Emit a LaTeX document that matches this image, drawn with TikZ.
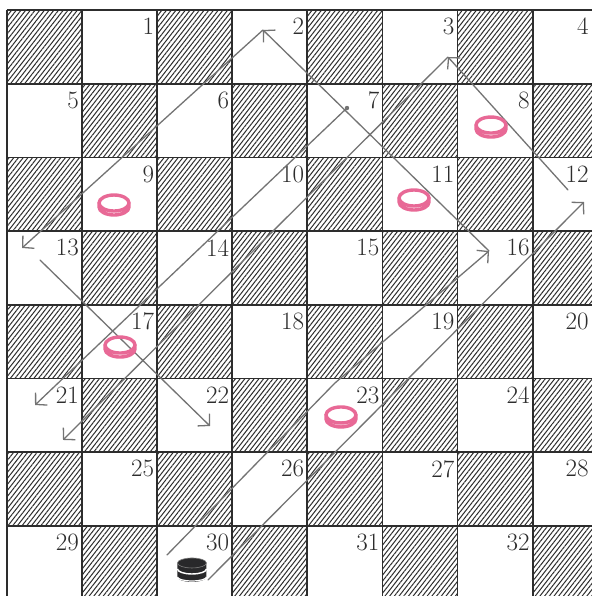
\documentclass[tikz,border=0pt]{standalone}
\usepackage{tikz}
\usetikzlibrary{arrows.meta, patterns.meta}
\definecolor{inkgray}{RGB}{45,45,45}
\definecolor{pencil}{RGB}{115,115,115}
\definecolor{ringpink}{RGB}{232,105,150}
\definecolor{kingdark}{RGB}{40,40,42}
\tikzset{
  darksq/.style={
    pattern={Lines[angle=52, distance=3.7pt, line width=1pt]},
    pattern color=inkgray
  },
  gridline/.style={line width=1.8pt, inkgray},
  sqnum/.style={
    anchor=north east, inner sep=0pt, xshift=-3pt, yshift=-8pt,
    font=\fontsize{25}{25}\selectfont, text=inkgray
  },
  edgenum/.style={sqnum, xshift=-16pt},
  move/.style={line width=1.3pt, pencil, line cap=round},
  movearrow/.style={move, -{Straight Barb[length=8pt, width=17pt, line width=1.3pt]}},
  ring/.pic={
    \draw[ringpink, line width=3.4pt]
      (-15pt,2pt) -- (-15pt,-2pt) arc (180:360:15pt and 8pt) -- (15pt,2pt)
      (0,2pt) ellipse (15pt and 8pt);
  },
  king/.pic={
    \fill[kingdark] (-14.5pt,7pt) -- (-14.5pt,-7pt) arc (180:360:14.5pt and 5pt)
      -- (14.5pt,7pt) arc (0:180:14.5pt and 5pt) -- cycle;
    \draw[white, line width=1.4pt] (-14.5pt,1pt) arc (180:360:14.5pt and 5pt);
    \draw[white, line width=1.2pt] (-14.5pt,-7pt) arc (180:360:14.5pt and 4pt);
    \draw[gray, line width=0.6pt] (0,7pt) ellipse (14.5pt and 5pt);
  }
}

\begin{document}
\begin{tikzpicture}[x=75.1pt, y=-73.7pt]
  \useasboundingbox (-0.0932,-0.1357) rectangle (7.7896,7.9512);
  \fill[white] (-0.0932,-0.1357) rectangle (7.7896,7.9512);
  \clip (-0.0932,-0.1357) rectangle (7.7896,7.9512);
  % board: hatched squares and numbered squares
  \foreach \r in {0,...,7}
    \foreach \c in {0,...,7} {
      \pgfmathtruncatemacro{\odd}{mod(\r+\c,2)}
      \ifnum\odd=0
        \path[darksq] (\c,\r) rectangle ++(1,1);
      \else
        \pgfmathtruncatemacro{\num}{4*\r+floor(\c/2)+1}
        \ifnum\c=7
          \node[edgenum] (n\num) at (\c+1,\r) {\num};
        \else
          \node[sqnum] (n\num) at (\c+1,\r) {\num};
        \fi
      \fi
    }
  \foreach \i in {0,...,8} {
    \draw[gridline] (\i,0) -- (\i,8.2);
    \draw[gridline] (0,\i) -- (8.2,\i);
  }
  % ends of the pencil lines
  \coordinate (s30a) at (2.130,7.395);
  \coordinate (k30a) at (4.367,5.061);
  \coordinate (t16) at (6.418,3.270);
  \coordinate (t2) at (3.409,0.271);
  \coordinate (t13) at (0.200,3.229);
  \coordinate (s13) at (0.439,3.392);
  \coordinate (t22) at (2.703,5.645);
  \coordinate (s30b) at (2.676,7.734);
  \coordinate (t12) at (7.683,2.605);
  \coordinate (s12) at (7.470,2.442);
  \coordinate (t3) at (5.872,0.638);
  \coordinate (t21b) at (0.746,5.834);
  \coordinate (d7) at (4.527,1.330);
  \coordinate (t21a) at (0.373,5.360);
  % first route
  \draw[movearrow] (s30a) -- (k30a) -- (t16);
  \draw[movearrow] (t16) -- (t2);
  \draw[movearrow] (t2) -- (t13);
  \draw[movearrow] (s13) -- (t22);
  % second route
  \draw[movearrow] (s30b) -- (t12);
  \draw[movearrow] (s12) -- (t3);
  \draw[movearrow] (t3) -- (t21b);
  \draw[movearrow] (d7) -- (t21a);
  \fill[pencil] (d7) circle (2.2pt);
  % pieces
  \pic at (6.445,1.588) {ring};
  \pic at (1.425,2.646) {ring};
  \pic at (5.420,2.578) {ring};
  \pic at (1.505,4.573) {ring};
  \pic at (4.447,5.522) {ring};
  \pic at (2.463,7.598) {king};
\end{tikzpicture}
\end{document}
